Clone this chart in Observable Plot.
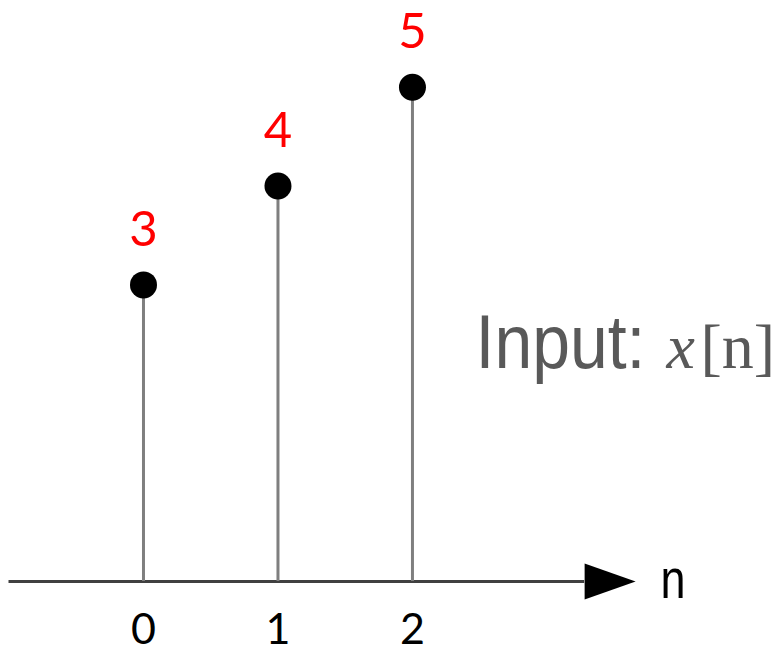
<!DOCTYPE html>
<html>
<head>
<meta charset="utf-8">
<script src="https://cdn.jsdelivr.net/npm/d3@7"></script>
<script src="https://cdn.jsdelivr.net/npm/@observablehq/plot@0.6"></script>
<style>
  html, body { margin: 0; padding: 0; background: #fff; }
</style>
</head>
<body>
<div id="chart"></div>
<script>
// Discrete-time input signal x[n]
const sampleIndex = [0, 1, 2];
const sampleValues = [3, 4, 5];
const tickLabels = ["0", "1", "2"];
const axisName = "n";
const signalName = ["Input:", "x", "[n]"];

const samples = sampleIndex.map((n, i) => ({n, value: sampleValues[i]}));

// Horizontal n-axis runs from one step left of the first sample to just past the last
const axisStart = -1;
const axisEnd = 3.28;

// Filled arrowhead whose base sits on the origin and points right
const arrowHead = {
  draw(context) {
    context.moveTo(0, -18);
    context.lineTo(0, 18);
    context.lineTo(51, 0);
    context.closePath();
  }
};

const sans = "'Liberation Sans', Lato, sans-serif";
const serif = "'Liberation Serif', 'DejaVu Serif', serif";
const textGray = "#595959";

const chart = Plot.plot({
  width: 781,
  height: 654,
  marginLeft: 8.5,
  marginRight: 0,
  marginTop: 86.7,
  marginBottom: 73,
  x: {domain: [-1, 4.744], axis: null},
  y: {domain: [0, 5], axis: null},
  style: {background: "#fff", fontFamily: "Lato, sans-serif"},
  marks: [
    // n-axis line and arrowhead
    Plot.ruleY([0], {x1: axisStart, x2: axisEnd, stroke: "#404040", strokeWidth: 3}),
    Plot.dot([axisEnd], {x: d => d, y: 0, symbol: arrowHead, fill: "black", stroke: "none"}),
    // stems
    Plot.ruleX(samples, {x: "n", y1: 0, y2: "value", stroke: "#7f7f7f", strokeWidth: 3}),
    // sample heads
    Plot.dot(samples, {x: "n", y: "value", r: 13.5, fill: "black", stroke: "none"}),
    // sample values
    Plot.text(samples, {x: "n", y: "value", text: d => String(d.value), dy: -55,
      fill: "#ff0000", fontSize: 49, fontFamily: "Lato, sans-serif"}),
    // tick labels
    Plot.axisX(sampleIndex, {tickSize: 0, tickPadding: 32, fontSize: 43,
      tickFormat: (d, i) => tickLabels[i], fontFamily: "Lato, sans-serif", label: null}),
    // axis name
    Plot.text([axisName], {x: axisEnd, y: 0, text: d => d, textAnchor: "start", lineAnchor: "bottom",
      dx: 76, dy: 16, fontSize: 56, fontFamily: sans, fill: "black"}),
    // signal title: "Input: x[n]"
    Plot.text([signalName[0]], {frameAnchor: "right", text: d => d, textAnchor: "start", lineAnchor: "bottom",
      dx: -306, dy: 34, fontSize: 76, fontFamily: sans, fill: textGray}),
    Plot.text([signalName[1]], {frameAnchor: "right", text: d => d, textAnchor: "start", lineAnchor: "bottom",
      dx: -115, dy: 34, fontSize: 64, fontFamily: serif, fontStyle: "italic", fill: textGray}),
    Plot.text([signalName[2]], {frameAnchor: "right", text: d => d, textAnchor: "start", lineAnchor: "bottom",
      dx: -81, dy: 34, fontSize: 64, fontFamily: serif, fill: textGray})
  ]
});

// Condense the sans-serif words to a narrow, Calibri-like set width
const condensed = new Map([[signalName[0], 170], [axisName, 25]]);
d3.select(chart).selectAll("text")
  .filter(function() { return condensed.has(this.textContent) && !this.querySelector("tspan"); })
  .attr("textLength", function() { return condensed.get(this.textContent); })
  .attr("lengthAdjust", "spacingAndGlyphs");

document.getElementById("chart").appendChild(chart);
</script>
</body>
</html>
